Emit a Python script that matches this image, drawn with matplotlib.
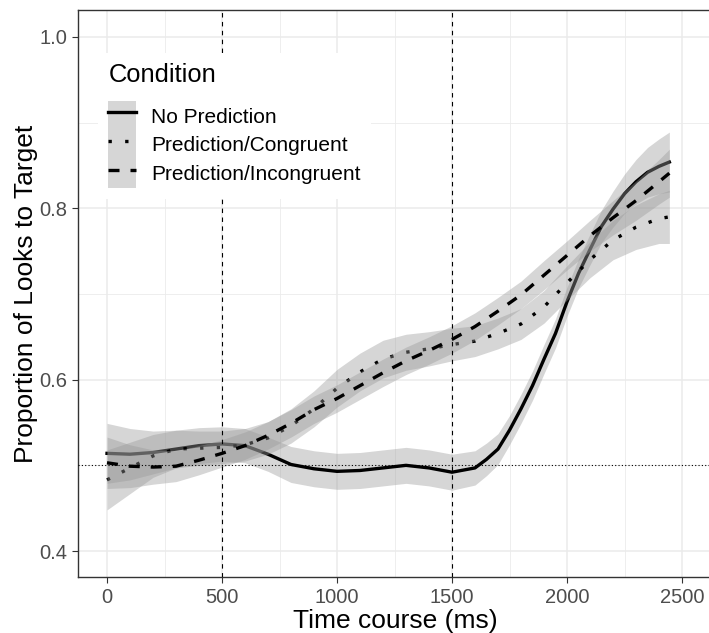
import matplotlib
matplotlib.use("Agg")
import matplotlib.pyplot as plt
from matplotlib.patches import Patch
from matplotlib.lines import Line2D

plt.rcParams['font.family'] = ['Liberation Sans', 'DejaVu Sans']

# ---- data (smoothed proportions and ribbon half-widths) ----
conditions = ['No Prediction', 'Prediction/Congruent', 'Prediction/Incongruent']

time_np = [0, 100, 200, 300, 400, 500, 600, 700, 800, 900, 1000, 1100, 1200, 1300,
           1400, 1500, 1600, 1650, 1700, 1750, 1800, 1850, 1900, 1950, 2000, 2050,
           2100, 2150, 2200, 2250, 2300, 2350, 2400, 2445]
mean_np = [0.514, 0.513, 0.515, 0.519, 0.523, 0.525, 0.523, 0.513, 0.501, 0.496, 0.493,
           0.494, 0.497, 0.500, 0.497, 0.492, 0.497, 0.507, 0.519, 0.541, 0.566, 0.593,
           0.624, 0.654, 0.691, 0.724, 0.752, 0.779, 0.799, 0.817, 0.831, 0.842, 0.849, 0.854]
se_np = [0.035, 0.030, 0.025, 0.022, 0.021, 0.020, 0.020, 0.020, 0.021, 0.021, 0.021,
         0.021, 0.021, 0.021, 0.021, 0.021, 0.020, 0.019, 0.018, 0.017, 0.017, 0.017,
         0.017, 0.017, 0.017, 0.017, 0.018, 0.019, 0.021, 0.023, 0.026, 0.029, 0.032, 0.035]

time_pc = [0, 100, 200, 300, 400, 500, 600, 700, 800, 900, 1000, 1100, 1200,
           1300, 1400, 1500, 1600, 1700, 1800, 1900, 2000, 2100, 2200, 2300, 2400, 2445]
mean_pc = [0.483, 0.497, 0.511, 0.519, 0.520, 0.521, 0.524, 0.532, 0.546, 0.566, 0.590,
           0.609, 0.624, 0.632, 0.636, 0.641, 0.645, 0.654, 0.665, 0.685, 0.713, 0.740,
           0.763, 0.778, 0.788, 0.790]
se_pc = [0.035, 0.030, 0.025, 0.022, 0.020, 0.019, 0.019, 0.019, 0.020, 0.021, 0.022,
         0.022, 0.022, 0.021, 0.020, 0.019, 0.018, 0.018, 0.018, 0.019, 0.020, 0.021,
         0.023, 0.026, 0.029, 0.031]

time_pi = time_pc
mean_pi = [0.503, 0.499, 0.498, 0.499, 0.506, 0.514, 0.523, 0.535, 0.549, 0.565, 0.578,
           0.593, 0.608, 0.622, 0.634, 0.647, 0.662, 0.680, 0.699, 0.722, 0.745, 0.768,
           0.789, 0.809, 0.831, 0.841]
se_pi = [0.030, 0.025, 0.020, 0.018, 0.017, 0.016, 0.016, 0.016, 0.016, 0.016, 0.016,
         0.016, 0.016, 0.016, 0.016, 0.016, 0.016, 0.016, 0.016, 0.017, 0.017, 0.018,
         0.020, 0.023, 0.026, 0.028]

x_ticks = [0, 500, 1000, 1500, 2000, 2500]
y_ticks = [0.4, 0.6, 0.8, 1.0]
onset_lines = [500, 1500]
chance_level = 0.5

line_styles = ['-', (0, (1, 4)), (0, (3.3, 3.3))]
ribbon_color = '#999999'
key_fill = '#D6D6D6'  # ribbon grey as it looks on white

fig = plt.figure(figsize=(7.09, 6.33), dpi=100)
ax = fig.add_axes([78 / 709, (633 - 577) / 633, (712 - 78) / 709, (577 - 10) / 633])

series = [(time_np, mean_np, se_np), (time_pc, mean_pc, se_pc), (time_pi, mean_pi, se_pi)]
z = 2
for (t, m, s), ls in zip(series, line_styles):
    lower = [a - b for a, b in zip(m, s)]
    upper = [a + b for a, b in zip(m, s)]
    # ribbon first, then line: later ribbons cover earlier lines like geom_smooth
    ax.fill_between(t, lower, upper, color=ribbon_color, alpha=0.4, lw=0, zorder=z)
    ax.plot(t, m, color='black', lw=2.4, linestyle=ls, zorder=z + 1)
    z += 2

for xv in onset_lines:
    ax.axvline(xv, color='black', lw=0.8, linestyle=(0, (4, 4)), zorder=9)
ax.axhline(chance_level, color='black', lw=0.8, linestyle=(0, (1, 2)), zorder=9)

ax.set_xlim((78 - 107) / 0.23, (712 - 107) / 0.23)
ax.set_ylim(0.4 - (577 - 551) / 857.5, 1.0 + (37 - 10) / 857.5)
ax.set_xticks(x_ticks)
ax.set_yticks(y_ticks)
ax.set_yticklabels(['%.1f' % v for v in y_ticks])
ax.set_xticks([250, 750, 1250, 1750, 2250], minor=True)
ax.set_yticks([0.5, 0.7, 0.9], minor=True)
ax.grid(which='major', color='#EBEBEB', lw=1.1)
ax.grid(which='minor', color='#EBEBEB', lw=0.6)
ax.set_axisbelow(True)
ax.tick_params(which='major', length=4.3, width=0.8, color='#333333',
               labelsize=14.5, labelcolor='#4D4D4D', pad=3.5)
ax.tick_params(which='minor', length=0)
for sp in ax.spines.values():
    sp.set_color('#333333')
    sp.set_linewidth(1.0)

ax.set_xlabel('Time course (ms)', fontsize=19, labelpad=1.5)
ax.set_ylabel('Proportion of Looks to Target', fontsize=19, labelpad=1)

handles = []
for ls in line_styles:
    patch = Patch(facecolor=key_fill, edgecolor='none')
    line = Line2D([], [], color='black', lw=2.4, linestyle=ls)
    handles.append((patch, line))
leg = ax.legend(handles, conditions, title='Condition', loc='upper left',
                bbox_to_anchor=(20 / 634, (577 - 53) / 567), borderaxespad=0,
                frameon=True, fancybox=False, edgecolor='none', facecolor='white',
                framealpha=1, fontsize=15, title_fontsize=18.4,
                handlelength=1.3, handleheight=1.76, labelspacing=0,
                handletextpad=0.75, borderpad=0.5, alignment='left')
leg._legend_box.sep = 10  # gap between title and keys
leg.set_zorder(10)

fig.savefig('out.png', dpi=100)
